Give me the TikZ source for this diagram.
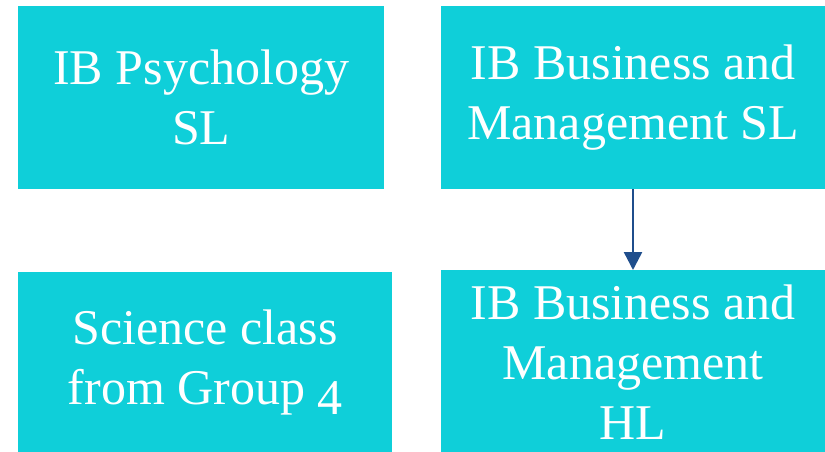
\documentclass[tikz,border=0pt]{standalone}
\usepackage{fontspec}
\setmainfont{Liberation Serif}
\usetikzlibrary{arrows.meta}
\definecolor{boxc}{HTML}{0FCFD9}
\definecolor{arrc}{HTML}{1F4E8C}
\tikzset{
  card/.style={fill=boxc, draw=none, anchor=north west, inner sep=0pt,
    text=white, align=center, font=\fontsize{50}{60}\selectfont},
  link/.style={draw=arrc, line width=2.5pt, -{Triangle[width=18pt,length=18pt]}}
}
\begin{document}
\begin{tikzpicture}[x=1pt,y=-1pt]
\useasboundingbox (0,0) rectangle (825,452);
\fill[white] (0,0) rectangle (825,452);
\node[card, minimum width=366pt, minimum height=183pt] (psy) at (18,6) {IB Psychology\\SL};
\node[card, minimum width=384pt, minimum height=183pt] (bmsl) at (441,6) {IB Business and\\Management SL};
\node[card, minimum width=374pt, minimum height=180pt] (sci) at (18,272) {Science class\\from Group \raisebox{-0.2em}{4}};
\node[card, minimum width=384pt, minimum height=182pt] (bmhl) at (441,270) {};
\node[text=white, align=center, font=\fontsize{50}{60}\selectfont, anchor=north, inner sep=0pt] (bmhlt) at (633,285) {IB Business and\\Management\\HL};
\coordinate (a1) at (633,189);
\draw[link] (bmsl.south -| a1) -- (bmhl.north -| a1);
\end{tikzpicture}
\end{document}
